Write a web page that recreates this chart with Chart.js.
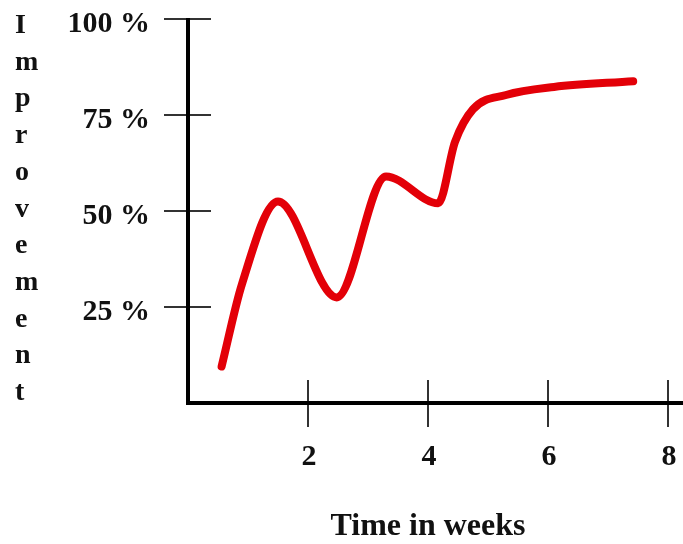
<!DOCTYPE html>
<html>
<head>
<meta charset="utf-8">
<script src="https://cdn.jsdelivr.net/npm/chart.js@4/dist/chart.umd.min.js"></script>
<style>
  html, body { margin: 0; padding: 0; background: #fff; }
  #wrap { width: 683px; height: 544px; }
</style>
</head>
<body>
<div id="wrap"><canvas id="chartCanvas"></canvas></div>
<script>
// data
const weeks = [0.56, 0.9, 1.5, 2.48, 3.3, 4.17, 4.45, 4.75, 5.3, 6.1, 7.42];
const improvement = [9.5, 31, 52.5, 27.5, 59, 52, 68, 76.5, 80.2, 82.3, 83.8];
const xTicks = [2, 4, 6, 8];
const yTicks = [25, 50, 75, 100];
const yLabel = 'Improvement';
const xLabel = 'Time in weeks';

const serif = "'Liberation Serif', 'Times New Roman', serif";

// axes drawn by hand: ticks cross the axis lines
const axesPlugin = {
  id: 'axesPlugin',
  beforeDatasetsDraw(chart) {
    const { ctx, scales: { x, y } } = chart;
    const x0 = x.getPixelForValue(0);
    const y0 = y.getPixelForValue(0);
    ctx.save();
    ctx.strokeStyle = '#333';
    ctx.lineWidth = 2;
    ctx.beginPath();
    yTicks.forEach(v => {
      const py = y.getPixelForValue(v);
      ctx.moveTo(x0 - 24, py);
      ctx.lineTo(x0 + 23, py);
    });
    xTicks.forEach(v => {
      const px = x.getPixelForValue(v);
      ctx.moveTo(px, y0 - 23);
      ctx.lineTo(px, y0 + 24);
    });
    ctx.stroke();

    ctx.strokeStyle = '#000';
    ctx.lineWidth = 4;
    ctx.beginPath();
    ctx.moveTo(x0, y.getPixelForValue(100) - 1);
    ctx.lineTo(x0, y0);
    ctx.lineTo(chart.width, y0);
    ctx.stroke();

    // vertical stacked letters
    ctx.fillStyle = '#111';
    ctx.font = 'bold 28px ' + serif;
    ctx.textAlign = 'left';
    ctx.textBaseline = 'alphabetic';
    yLabel.split('').forEach((ch, i) => {
      ctx.fillText(ch, 15, 33 + i * 36.7);
    });
    ctx.restore();
  }
};

const config = {
  type: 'line',
  data: {
    datasets: [{
      data: weeks.map((w, i) => ({ x: w, y: improvement[i] })),
      borderColor: '#e30008',
      borderWidth: 8,
      borderCapStyle: 'round',
      borderJoinStyle: 'round',
      pointRadius: 0,
      cubicInterpolationMode: 'monotone',
      fill: false
    }]
  },
  options: {
    responsive: true,
    maintainAspectRatio: false,
    animation: false,
    layout: { padding: { left: 0, top: 19, right: 15, bottom: 0 } },
    plugins: { legend: { display: false }, tooltip: { enabled: false } },
    scales: {
      x: {
        type: 'linear',
        min: 0,
        max: 8,
        grid: { display: false },
        border: { display: false },
        afterFit: scale => {
          scale.height = 141;
          scale.paddingLeft = 0;
          scale.paddingRight = 0;
        },
        ticks: {
          stepSize: 2,
          padding: 28,
          labelOffset: 1,
          maxRotation: 0,
          color: '#111',
          font: { family: serif, size: 30, weight: 'bold' },
          callback: v => (v === 0 ? '' : v)
        },
        title: {
          display: true,
          text: xLabel,
          color: '#111',
          font: { family: serif, size: 32, weight: 'bold' },
          padding: { top: 0, bottom: -2 }
        }
      },
      y: {
        min: 0,
        max: 100,
        grid: { display: false },
        border: { display: false },
        afterFit: scale => {
          scale.width = 188;
          scale.paddingTop = 0;
          scale.paddingBottom = 0;
        },
        ticks: {
          stepSize: 25,
          padding: 30,
          labelOffset: 5,
          color: '#111',
          font: { family: serif, size: 30, weight: 'bold' },
          callback: v => (v === 0 ? '' : v + ' %')
        }
      }
    }
  },
  plugins: [axesPlugin]
};

new Chart(document.getElementById('chartCanvas'), config);
</script>
</body>
</html>
